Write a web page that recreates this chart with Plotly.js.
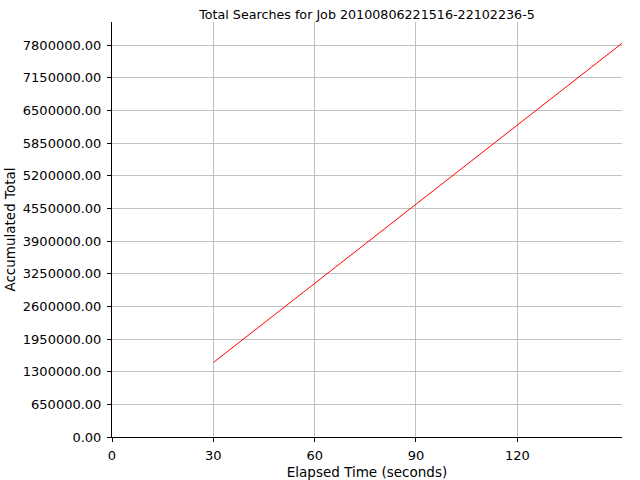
<!DOCTYPE html>
<html>
<head>
<meta charset="utf-8">
<script src="https://cdn.plot.ly/plotly-3.0.1.min.js"></script>
<style>html,body{margin:0;padding:0;background:#fff;}#chart{width:640px;height:480px;}</style>
</head>
<body>
<div id="chart"></div>
<script>
var elapsedSeconds = [30, 60, 90, 120, 151];
var accumulatedTotal = [1481000, 3058000, 4630000, 6205000, 7834000];
var xTickValues = [0, 30, 60, 90, 120];

var family = 'DejaVu Sans, sans-serif';
var tickFont = {family: family, size: 13, color: '#000'};
var axisTitleFont = {family: family, size: 13.5, color: '#000'};

Plotly.newPlot('chart', [{
  x: elapsedSeconds,
  y: accumulatedTotal,
  type: 'scatter',
  mode: 'lines',
  line: {color: '#ff0000', width: 1},
  hoverinfo: 'skip'
}], {
  width: 640, height: 480,
  paper_bgcolor: '#ffffff', plot_bgcolor: '#ffffff',
  margin: {l: 112, r: 18, t: 22, b: 43},
  showlegend: false,
  font: tickFont,
  title: {text: 'Total Searches for Job 20100806221516-22102236-5', font: {family: family, size: 12.7, color: '#000'}, x: 0.5, xref: 'paper', y: 0.978, yref: 'container', yanchor: 'top'},
  xaxis: {
    range: [0, 151], tickvals: xTickValues, ticks: 'outside', ticklen: 4, tickcolor: '#000',
    showline: true, linecolor: '#000', linewidth: 1, mirror: false,
    showgrid: true, gridcolor: '#c0c0c0', gridwidth: 1, zeroline: false,
    tickfont: tickFont, ticklabelstandoff: 2,
    title: {text: 'Elapsed Time (seconds)', font: axisTitleFont, standoff: 8}
  },
  yaxis: {
    range: [0, 8258000], tick0: 0, dtick: 650000, tickformat: '.2f', ticks: 'outside', ticklen: 4, tickcolor: '#000',
    showline: true, linecolor: '#000', linewidth: 1,
    showgrid: true, gridcolor: '#c0c0c0', gridwidth: 1, zeroline: false,
    tickfont: tickFont, ticklabelstandoff: 3,
    title: {text: 'Accumulated Total', font: axisTitleFont, standoff: 4}
  }
}, {displayModeBar: false, staticPlot: true});
</script>
</body>
</html>
